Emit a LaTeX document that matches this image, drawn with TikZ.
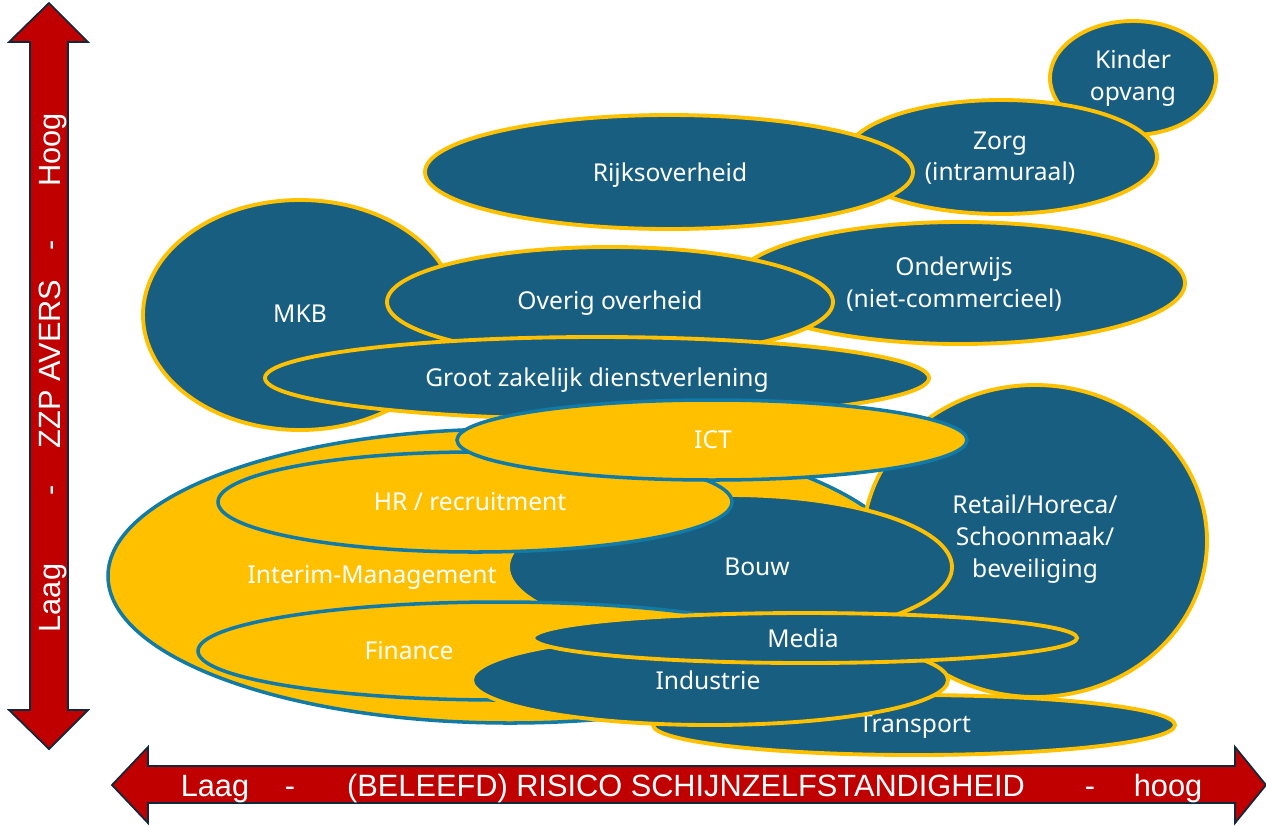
\documentclass[tikz,border=0pt]{standalone}
\usepackage{fontspec}
\setmainfont{Noto Sans}
\newfontfamily\axisfont{Liberation Sans}
\definecolor{blobblue}{HTML}{185E80}
\definecolor{blobyellow}{HTML}{FFC000}
\definecolor{rimblue}{HTML}{127AA6}
\definecolor{axisred}{HTML}{C00000}
\definecolor{axisnavy}{HTML}{10283A}
\begin{document}
\begin{tikzpicture}[x=0.02cm,y=-0.02cm,
  blueblob/.style={fill=blobblue,draw=blobyellow,line width=2.2pt},
  yellowblob/.style={fill=blobyellow,draw=rimblue,line width=2pt},
  lbl/.style={text=white,align=center,inner sep=0pt,font=\fontsize{14}{18}\selectfont},
  axisarrow/.style={fill=axisred,draw=axisnavy,line width=1pt},
  axistxt/.style={text=white,inner sep=0pt,anchor=base,font=\axisfont\fontsize{17.5}{20}\selectfont}]
\useasboundingbox (0,0) rectangle (1266,825);

% axes
\draw[axisarrow] (49,3)--(88,42)--(68,42)--(68,710)--(88,710)--(49,749)--(9,710)--(30,710)--(30,42)--(9,42)--cycle;
\draw[axisarrow] (112,785)--(148,747)--(148,766)--(1235,766)--(1235,747)--(1266,785)--(1235,823)--(1235,803)--(148,803)--(148,823)--cycle;
\node[axistxt,rotate=90] (vlaag) at (60,598) {Laag};
\node[axistxt,rotate=90] (vdash1) at (60,490) {-};
\node[axistxt,rotate=90] (vzzp) at (60,364) {ZZP AVERS};
\node[axistxt,rotate=90] (vdash2) at (60,245) {-};
\node[axistxt,rotate=90] (vhoog) at (60,150) {Hoog};
\node[axistxt] (hlaag) at (215,796) {Laag};
\node[axistxt] (hdash1) at (290,796) {-};
\node[axistxt] (hrisico) at (686,796) {(BELEEFD) RISICO SCHIJNZELFSTANDIGHEID};
\node[axistxt] (hdash2) at (1090,796) {-};
\node[axistxt] (hhoog) at (1168,796) {hoog};

% sectors, back to front
\draw[blueblob] (1133,78) ellipse (83 and 57);
\node[lbl] (kinder) at (1133,78) {Kinder\\opvang};
\draw[blueblob] (1001,157) ellipse (156 and 57);
\node[lbl] (zorg) at (1000,158) {Zorg\\(intramuraal)};
\draw[blueblob] (669,172) ellipse (244 and 57);
\node[lbl] (rijk) at (670,175) {Rijksoverheid};
\draw[blueblob] (960,283) ellipse (225 and 61);
\node[lbl] (onderwijs) at (954,284) {Onderwijs\\(niet-commercieel)};
\draw[blueblob] (300,315) ellipse (157 and 115);
\node[lbl] (mkb) at (300,314) {MKB};
\draw[blueblob] (610,302) ellipse (223 and 55);
\node[lbl] (overig) at (610,303) {Overig overheid};
\draw[blueblob] (597,378) ellipse (332 and 41);
\node[lbl] (groot) at (597,380) {Groot zakelijk dienstverlening};
\draw[yellowblob] (510,576) ellipse (402 and 147);
\node[lbl] (interim) at (372,577) {Interim-Management};
\draw[blueblob] (1035,541) ellipse (172 and 156);
\node[lbl] (retail) at (1035,539) {Retail/Horeca/\\Schoonmaak/\\beveiliging};
\draw[blueblob] (730,567) ellipse (222 and 72);
\node[lbl] (bouw) at (757,567) {Bouw};
\draw[yellowblob] (475,502) ellipse (257 and 50);
\node[lbl] (hr) at (470,502) {HR / recruitment};
\draw[yellowblob] (712,440) ellipse (255 and 40);
\node[lbl] (ict) at (713,440) {ICT};
\draw[yellowblob] (500,651) ellipse (302 and 49);
\node[lbl] (finance) at (409,651) {Finance};
\draw[blueblob] (914,725) ellipse (261 and 30);
\node[lbl] (transport) at (915,727) {Transport};
\draw[blueblob] (710,680) ellipse (238 and 45);
\node[lbl] (industrie) at (708,680) {Industrie};
\draw[blueblob] (805,638) ellipse (272 and 25);
\node[lbl] (media) at (803,638) {Media};

\end{tikzpicture}
\end{document}
